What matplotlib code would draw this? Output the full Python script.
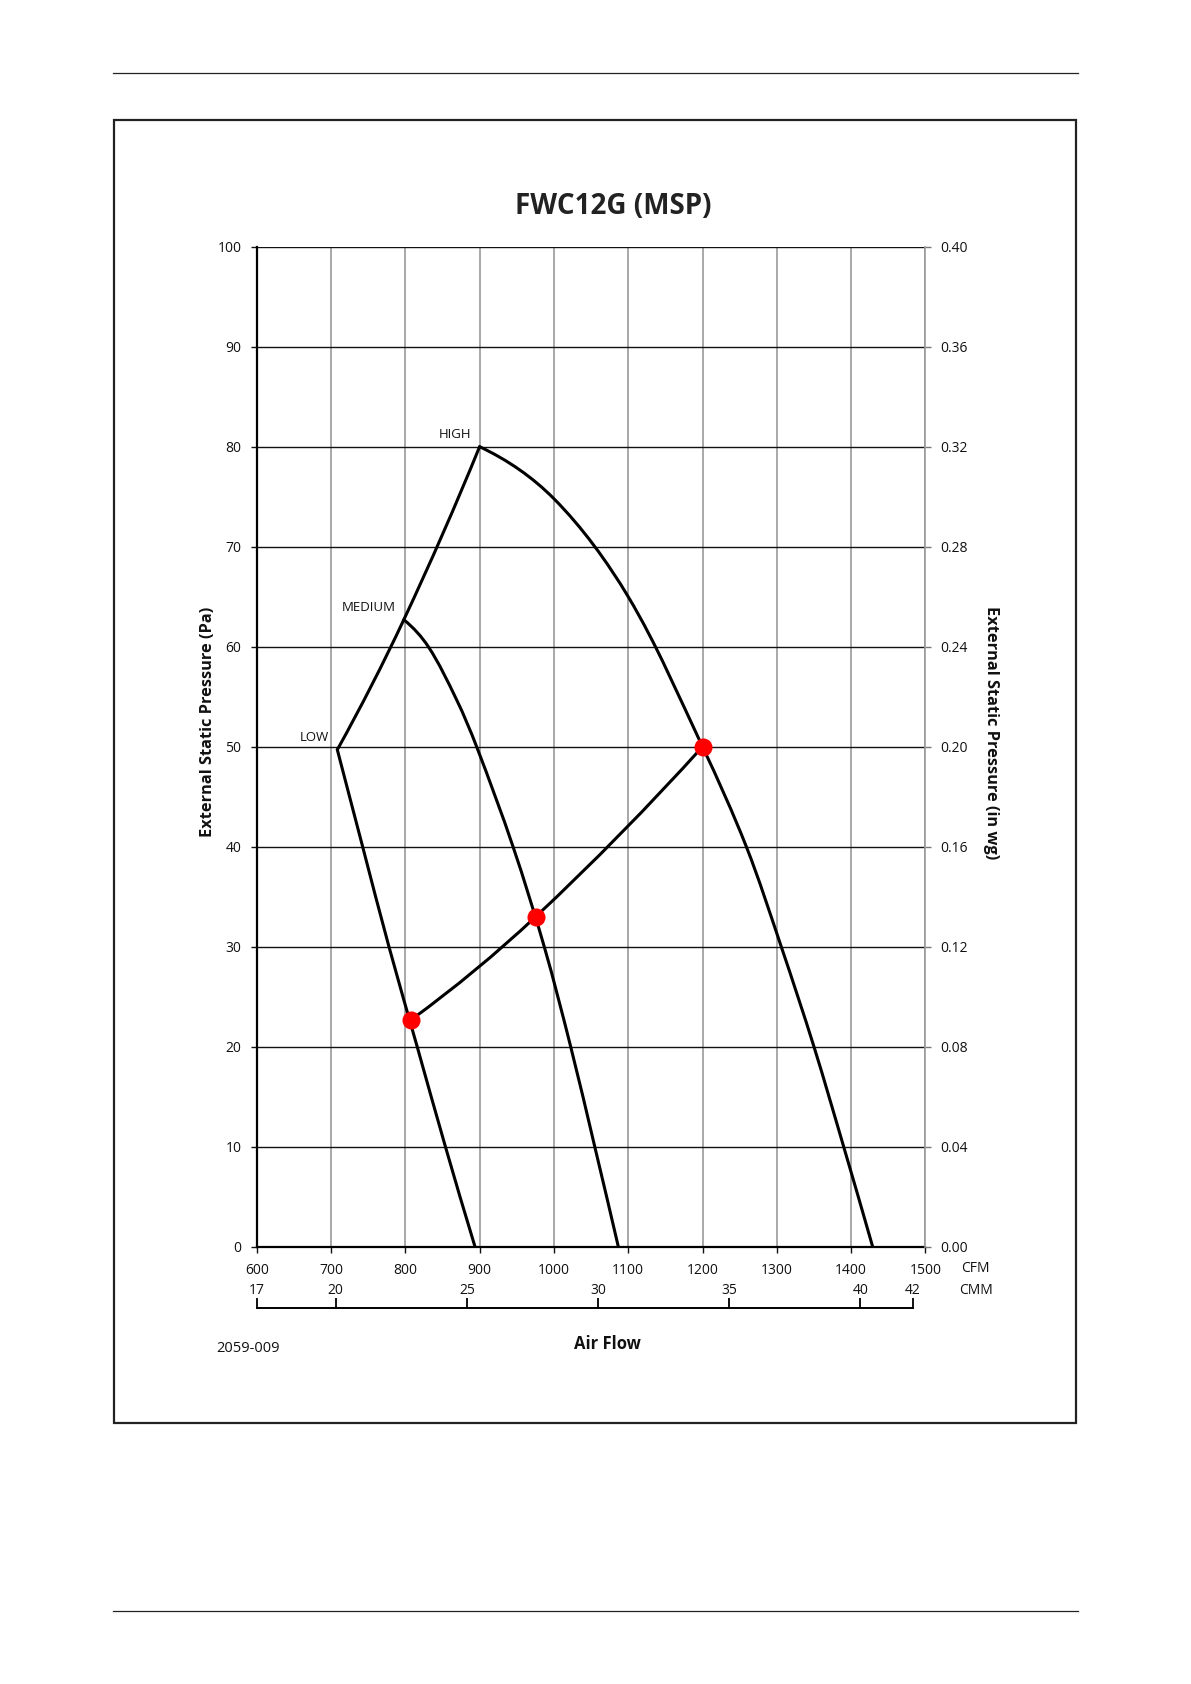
import matplotlib
matplotlib.use("Agg")
import matplotlib.pyplot as plt
from matplotlib.patches import Rectangle, PathPatch
from matplotlib.lines import Line2D
from matplotlib.path import Path

plt.rcParams['font.family'] = ['Open Sans', 'DejaVu Sans']

# fan curves (CFM, Pa)
high_cfm = [900, 1000, 1100, 1200, 1259, 1306, 1350, 1390, 1429]
high_pa = [80, 74.8, 65, 50, 40, 30, 20, 10, 0]

medium_cfm = [798, 831, 869, 896, 945, 987, 1022.6, 1055, 1086.7]
medium_pa = [62.7, 60, 54.7, 50, 40, 30, 20, 10, 0]

low_cfm = [708.5, 742.6, 778, 816, 854, 893.8]
low_pa = [49.7, 40, 30, 20, 10, 0]

# line joining the top end of each speed
peak_cfm = [708.5, 798, 900]
peak_pa = [49.7, 62.7, 80]

# system curve through the operating points
point_cfm = [808, 975.5, 1200]
point_pa = [22.7, 33, 50]

speed_labels = ['HIGH', 'MEDIUM', 'LOW']
label_cfm = [900, 798, 708.5]
label_pa = [80, 62.7, 49.7]

cfm_ticks = [600, 700, 800, 900, 1000, 1100, 1200, 1300, 1400, 1500]
pa_ticks = [0, 10, 20, 30, 40, 50, 60, 70, 80, 90, 100]
inwg_ticks = [0.00, 0.04, 0.08, 0.12, 0.16, 0.20, 0.24, 0.28, 0.32, 0.36, 0.40]
cmm_ticks = [17, 20, 25, 30, 35, 40, 42]
CFM_PER_CMM = 35.3147

W, H = 1191, 1684
fig = plt.figure(figsize=(W / 100, H / 100), dpi=100)


def fx(px):
    return px / W


def fy(py):
    return 1 - py / H


def smooth_line(ax, xs, ys, **kw):
    # smoothed line like the spreadsheet: cubic bezier through the points,
    # tangents from a chord length catmull-rom (measured in screen units)
    sx, sy = 0.743, 10.0
    n = len(xs)
    d = [((sx * (xs[i + 1] - xs[i])) ** 2 + (sy * (ys[i + 1] - ys[i])) ** 2) ** 0.5
         for i in range(n - 1)]
    m = [None] * n
    for i in range(1, n - 1):
        m[i] = ((xs[i + 1] - xs[i - 1]) / (d[i - 1] + d[i]),
                (ys[i + 1] - ys[i - 1]) / (d[i - 1] + d[i]))
    if n == 2:
        m[0] = m[1] = ((xs[1] - xs[0]) / d[0], (ys[1] - ys[0]) / d[0])
    else:
        m[0] = (2 * (xs[1] - xs[0]) / d[0] - m[1][0], 2 * (ys[1] - ys[0]) / d[0] - m[1][1])
        m[-1] = (2 * (xs[-1] - xs[-2]) / d[-1] - m[-2][0],
                 2 * (ys[-1] - ys[-2]) / d[-1] - m[-2][1])
    verts = [(xs[0], ys[0])]
    codes = [Path.MOVETO]
    for i in range(n - 1):
        c1 = (xs[i] + m[i][0] * d[i] / 3, ys[i] + m[i][1] * d[i] / 3)
        c2 = (xs[i + 1] - m[i + 1][0] * d[i] / 3, ys[i + 1] - m[i + 1][1] * d[i] / 3)
        verts += [c1, c2, (xs[i + 1], ys[i + 1])]
        codes += [Path.CURVE4] * 3
    ax.add_patch(PathPatch(Path(verts, codes), fill=False, **kw))


# page furniture
fig.add_artist(Line2D([fx(113), fx(1078)], [fy(73), fy(73)], color='#222222', lw=0.9))
fig.add_artist(Line2D([fx(113), fx(1078)], [fy(1611), fy(1611)], color='#222222', lw=0.9))
fig.add_artist(Rectangle((fx(114), fy(1423)), fx(1076) - fx(114), fy(120) - fy(1423),
                         fill=False, ec='#222222', lw=1.6))

ax = fig.add_axes([fx(256.7), fy(1246.7), fx(925.4) - fx(256.7), fy(246.7) - fy(1246.7)])
ax.set_xlim(600, 1500)
ax.set_ylim(0, 100)
ax.set_xticks(cfm_ticks)
ax.set_yticks(pa_ticks)
ax.grid(axis='y', color='#111111', lw=1.0)
ax.grid(axis='x', color='#9a9a9a', lw=1.2)
ax.set_axisbelow(True)
for s in ['top', 'right']:
    ax.spines[s].set_visible(False)
ax.spines['left'].set_linewidth(1.6)
ax.spines['bottom'].set_linewidth(1.6)
ax.spines['left'].set_zorder(3)
ax.spines['bottom'].set_zorder(3)
ax.tick_params(axis='both', length=4, width=1, colors='#111111', labelsize=10)
ax.tick_params(axis='x', pad=8)
ax.tick_params(axis='y', pad=7)

line_kw = dict(ec='black', lw=2.2, capstyle='round', joinstyle='round', zorder=4)
smooth_line(ax, high_cfm, high_pa, **line_kw)
smooth_line(ax, medium_cfm, medium_pa, **line_kw)
smooth_line(ax, low_cfm, low_pa, **line_kw)
smooth_line(ax, peak_cfm, peak_pa, **line_kw)
smooth_line(ax, point_cfm, point_pa, **line_kw)
ax.plot(point_cfm, point_pa, 'o', color='#ff0000', ms=13, mec='none', zorder=5)

for lab, x, y in zip(speed_labels, label_cfm, label_pa):
    ax.annotate(lab, (x, y), xytext=(-8, 6), textcoords='offset pixels',
                ha='right', va='bottom', fontsize=9.5, color='#111111')

ax_r = ax.twinx()
ax_r.set_ylim(0, 0.40)
ax_r.set_yticks(inwg_ticks)
ax_r.set_yticklabels([f'{v:.2f}' for v in inwg_ticks])
for s in ['top', 'left', 'bottom']:
    ax_r.spines[s].set_visible(False)
ax_r.spines['right'].set_color('#9a9a9a')
ax_r.spines['right'].set_linewidth(1.2)
ax_r.tick_params(axis='y', length=4, width=1, colors='#777777', labelcolor='#111111',
                 labelsize=10, pad=7)

# CMM scale drawn as a bracket under the CFM labels
ax_c = fig.add_axes([fx(256.7), fy(1308), fx(925.4) - fx(256.7), 0.0001])
ax_c.set_xlim(600, 1500)
ax_c.set_yticks([])
ax_c.patch.set_visible(False)
for s in ['left', 'right', 'bottom']:
    ax_c.spines[s].set_visible(False)
ax_c.spines['top'].set_linewidth(1.4)
ax_c.spines['top'].set_bounds(cmm_ticks[0] * CFM_PER_CMM, cmm_ticks[-1] * CFM_PER_CMM)
ax_c.xaxis.tick_top()
ax_c.set_xticks([c * CFM_PER_CMM for c in cmm_ticks])
ax_c.set_xticklabels([str(c) for c in cmm_ticks])
ax_c.tick_params(axis='x', direction='out', length=7, width=1.4, colors='#111111',
                 labelsize=10, pad=0)

fig.text(fx(961), fy(1269), 'CFM', ha='left', va='center', fontsize=10, color='#111111')
fig.text(fx(959), fy(1291), 'CMM', ha='left', va='center', fontsize=10, color='#111111')

fig.text(fx(613), fy(207), 'FWC12G (MSP)', ha='center', va='center',
         fontsize=20, fontweight='bold', color='#222222')
fig.text(fx(207.5), fy(722), 'External Static Pressure (Pa)', ha='center', va='center',
         rotation=90, fontsize=11.8, fontweight='bold', color='#111111')
fig.text(fx(991), fy(733), 'External Static Pressure (in wg)', ha='center', va='center',
         rotation=270, fontsize=11.8, fontweight='bold', color='#111111')
fig.text(fx(607), fy(1344), 'Air Flow', ha='center', va='center',
         fontsize=12, fontweight='bold', color='#111111')
fig.text(fx(216), fy(1348), '2059-009', ha='left', va='center', fontsize=10.5, color='#111111')

fig.savefig('out.png', dpi=100)
